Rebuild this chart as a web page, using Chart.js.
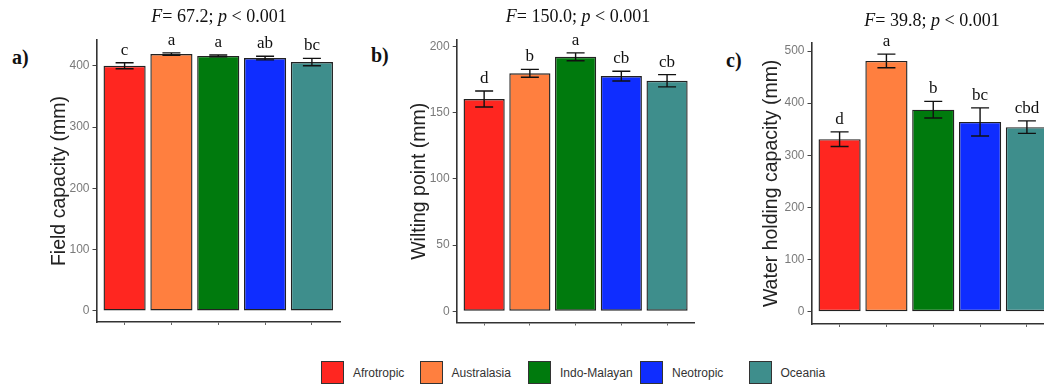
<!DOCTYPE html>
<html>
<head>
<meta charset="utf-8">
<script src="https://cdn.jsdelivr.net/npm/chart.js@4/dist/chart.umd.min.js"></script>
<style>
  html, body { margin: 0; padding: 0; background: #fff; }
  body { width: 1044px; height: 385px; position: relative; overflow: hidden; }
  canvas { position: absolute; top: 0; }
  .stat { position: absolute; font: 18px "Liberation Serif", "Times New Roman", serif; color: #111; white-space: nowrap; transform: translate(-50%, -50%); }
  .panel { position: absolute; font: bold 20px "Liberation Serif", "Times New Roman", serif; color: #111; transform: translateY(-50%); }
  .key { position: absolute; top: 361px; height: 23px; display: flex; align-items: center; font: 12px "Liberation Sans", Arial, sans-serif; color: #333; white-space: nowrap; }
  .key span.box { width: 23px; height: 23px; border: 1.5px solid #333; box-sizing: border-box; margin-right: 9px; }
</style>
</head>
<body>
<canvas id="fc" width="300" height="340" style="left:48px"></canvas>
<canvas id="wp" width="290" height="340" style="left:408px"></canvas>
<canvas id="whc" width="300" height="340" style="left:760px"></canvas>

<div class="stat" style="left:219px; top:16px"><i>F</i>= 67.2; <i>p</i> &lt; 0.001</div>
<div class="stat" style="left:578px; top:16px"><i>F</i>= 150.0; <i>p</i> &lt; 0.001</div>
<div class="stat" style="left:932px; top:20px"><i>F</i>= 39.8; <i>p</i> &lt; 0.001</div>

<div class="panel" style="left:12px; top:57px">a)</div>
<div class="panel" style="left:371px; top:55px">b)</div>
<div class="panel" style="left:726px; top:60px">c)</div>

<div id="legend"></div>

<script>
const regions = ['Afrotropic', 'Australasia', 'Indo-Malayan', 'Neotropic', 'Oceania'];
const regionColors = ['#ff2620', '#ff7f3f', '#007a0d', '#0f2dff', '#3e8e8c'];

// field capacity (mm)
const fieldCapacity = [400, 419, 416, 412.5, 406];
const fieldCapacityErr = [5, 2, 1.5, 3, 6];
const fieldCapacityGroups = ['c', 'a', 'a', 'ab', 'bc'];
const fieldCapacityTicks = [0, 100, 200, 300, 400];

// wilting point (mm)
const wiltingPoint = [160.4, 179.8, 192.3, 177.7, 174.2];
const wiltingPointErr = [6, 3, 3, 3.7, 4.6];
const wiltingPointGroups = ['d', 'b', 'a', 'cb', 'cb'];
const wiltingPointTicks = [0, 50, 100, 150, 200];

// water holding capacity (mm)
const waterHolding = [331, 481, 387.5, 364, 354];
const waterHoldingErr = [14, 13, 16, 27, 12];
const waterHoldingGroups = ['d', 'a', 'b', 'bc', 'cbd'];
const waterHoldingTicks = [0, 100, 200, 300, 400, 500];

// mean +/- error bars and the group letters above them
const errorBars = {
  id: 'errorBars',
  afterDatasetsDraw(chart, args, opts) {
    const ctx = chart.ctx;
    const y = chart.scales.y;
    const meta = chart.getDatasetMeta(0);
    ctx.save();
    ctx.strokeStyle = '#111';
    ctx.lineWidth = 1.4;
    meta.data.forEach((bar, i) => {
      const v = opts.values[i], e = opts.errors[i];
      const top = y.getPixelForValue(v + e);
      const bot = y.getPixelForValue(v - e);
      ctx.beginPath();
      ctx.moveTo(bar.x, top); ctx.lineTo(bar.x, bot);
      ctx.moveTo(bar.x - 9, top); ctx.lineTo(bar.x + 9, top);
      ctx.moveTo(bar.x - 9, bot); ctx.lineTo(bar.x + 9, bot);
      ctx.stroke();
      ctx.fillStyle = '#111';
      ctx.font = '17px "Liberation Serif", "Times New Roman", serif';
      ctx.textAlign = 'center';
      ctx.textBaseline = 'alphabetic';
      ctx.fillText(opts.groups[i], bar.x, top - 8);
    });
    ctx.restore();
  }
};

function makePanel(id, values, errors, groups, ticks, yTitle, box) {
  new Chart(document.getElementById(id), {
    type: 'bar',
    data: {
      datasets: [{
        data: values.map((v, i) => ({ x: i + 1, y: v })),
        backgroundColor: regionColors,
        borderColor: '#222',
        borderWidth: 1.4,
        borderSkipped: false,
        barPercentage: 0.9,
        categoryPercentage: 1
      }]
    },
    options: {
      responsive: false,
      animation: false,
      layout: { padding: { top: box.top, right: box.right, left: 0, bottom: 0 } },
      plugins: {
        legend: { display: false },
        tooltip: { enabled: false },
        errorBars: { values, errors, groups }
      },
      scales: {
        x: {
          type: 'linear',
          min: 0.4,
          max: 5.6,
          offset: false,
          afterBuildTicks: s => { s.ticks = [1, 2, 3, 4, 5].map(v => ({ value: v })); },
          afterFit: s => { s.height = box.bottom; },
          ticks: { display: false },
          grid: { offset: false, drawOnChartArea: false, tickLength: 3, tickColor: '#666', tickWidth: 1 },
          border: { display: true, color: '#333', width: 1.6 }
        },
        y: {
          min: box.min,
          max: box.max,
          afterBuildTicks: s => { s.ticks = ticks.map(v => ({ value: v })); },
          afterFit: s => { s.width = box.axis; },
          ticks: { color: '#7a7a7a', padding: 3, font: { family: '"Liberation Sans", Arial, sans-serif', size: 12 } },
          grid: { drawOnChartArea: false, tickLength: 4, tickColor: '#444', tickWidth: 1 },
          border: { display: true, color: '#333', width: 1.6 },
          title: {
            display: true,
            text: yTitle,
            color: '#222',
            padding: 0,
            font: { family: '"Liberation Sans", Arial, sans-serif', size: 19.5 }
          }
        }
      }
    },
    plugins: [errorBars]
  });
}

makePanel('fc', fieldCapacity, fieldCapacityErr, fieldCapacityGroups, fieldCapacityTicks,
  'Field capacity (mm)', { top: 40, right: 8, bottom: 18, axis: 48.5, min: -18, max: 442 });
makePanel('wp', wiltingPoint, wiltingPointErr, wiltingPointGroups, wiltingPointTicks,
  'Wilting point (mm)', { top: 40, right: 3.5, bottom: 17.5, axis: 48.7, min: -8.5, max: 205 });
makePanel('whc', waterHolding, waterHoldingErr, waterHoldingGroups, waterHoldingTicks,
  'Water holding capacity (mm)', { top: 42.7, right: 5, bottom: 16, axis: 51.5, min: -23.6, max: 516 });

// shared legend under the three panels
const keyLeft = [321, 419.5, 528, 640, 748.5];
const legend = document.getElementById('legend');
regions.forEach((r, i) => {
  const el = document.createElement('div');
  el.className = 'key';
  el.style.left = keyLeft[i] + 'px';
  el.innerHTML = '<span class="box" style="background:' + regionColors[i] + '"></span>' + r;
  legend.appendChild(el);
});
</script>
</body>
</html>
